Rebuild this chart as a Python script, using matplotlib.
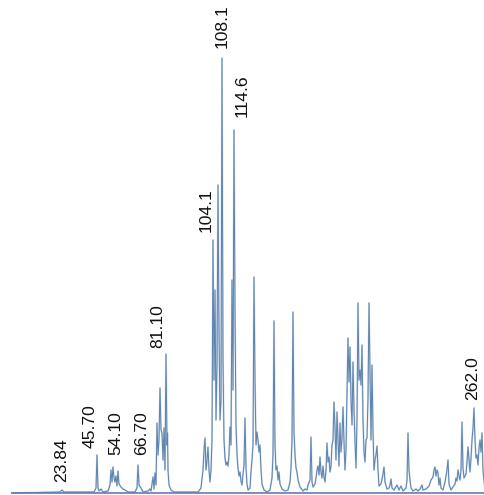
import matplotlib
matplotlib.use("Agg")
import matplotlib.pyplot as plt

# Detector trace: scan position and signal (counts above baseline)
trace_x = [12, 60, 62, 64, 94, 96, 97, 98, 99, 101, 103, 108, 110, 111, 112, 113, 114, 115, 116, 117,
           118, 119, 121, 123, 125, 128, 135, 137, 138, 139, 141, 143, 148, 150, 151, 153, 154, 155, 156, 157,
           158, 159, 160, 161, 162, 163, 164, 165, 166, 167, 167.5, 168, 169, 171, 174, 198, 201, 203, 204, 205,
           206, 207, 208, 209, 210, 211, 212, 213, 214, 215, 216, 217, 218, 219, 220, 221, 222, 223, 224, 225,
           226, 227, 228, 229, 230, 231, 232, 233, 234, 235, 236, 237, 238, 239, 240, 241, 242, 243, 244, 245,
           246, 247, 248, 250, 251, 252, 253, 254, 255, 256, 257, 258, 259, 260, 261, 262, 264, 267, 270, 272,
           273, 274, 275, 276, 277, 278, 279, 280, 282, 285, 288, 290, 291, 292, 293, 294, 295, 296, 297, 298,
           300, 303, 305, 307, 308, 310, 311, 312, 313, 315, 316, 317, 318, 319, 320, 321, 322, 323, 324, 325,
           326, 327, 328, 329, 330, 331, 332, 333, 334, 335, 336, 337, 338, 339, 340, 341, 342, 343, 344, 345,
           346, 347, 348, 349, 350, 351, 352, 353, 354, 355, 356, 357, 358, 359, 360, 361, 362, 363, 364, 365,
           366, 367, 368, 369, 370, 371, 372, 373, 374, 375, 376, 377, 378, 379, 381, 383, 384, 385, 387, 389,
           390, 391, 392, 394, 397, 399, 401, 403, 406, 407, 408, 409, 410, 411, 413, 416, 418, 420, 422, 423,
           426, 429, 431, 433, 434, 435, 436, 437, 438, 439, 440, 441, 443, 445, 447, 448, 449, 451, 453, 455,
           456, 457, 458, 459, 460, 461, 462, 463, 464, 466, 467, 468, 469, 470, 471, 472, 473, 474, 475, 476,
           477, 478, 479, 480, 481, 482, 483, 484, 485]
trace_h = [0, 1, 3, 1, 1, 5, 38, 5, 2, 4, 1, 2, 8, 23, 11, 26, 15, 11, 17, 7,
           22, 9, 6, 4, 3, 1, 1, 5, 28, 8, 5, 1, 2, 4, 2, 16, 4, 20, 8, 70,
           38, 53, 105, 63, 60, 33, 65, 23, 139, 48, 60, 23, 8, 3, 1, 1, 5, 23, 43, 55,
           23, 33, 46, 23, 11, 23, 53, 253, 113, 203, 73, 128, 308, 163, 73, 93, 435, 133, 53, 35,
           28, 31, 27, 38, 66, 48, 213, 103, 363, 183, 68, 38, 25, 17, 21, 12, 8, 19, 28, 75,
           25, 9, 3, 5, 21, 33, 48, 216, 113, 48, 61, 53, 41, 48, 23, 9, 3, 1, 3, 15,
           38, 172, 48, 23, 27, 13, 21, 9, 4, 2, 3, 11, 25, 53, 181, 61, 38, 25, 21, 13,
           6, 2, 4, 3, 8, 13, 56, 11, 6, 9, 15, 23, 27, 18, 36, 21, 15, 27, 16, 11,
           23, 50, 31, 36, 21, 27, 48, 53, 91, 65, 33, 81, 53, 27, 70, 41, 55, 86, 51, 23,
           43, 101, 155, 111, 146, 93, 68, 131, 83, 51, 25, 73, 190, 113, 123, 108, 148, 73, 41, 31,
           53, 55, 95, 190, 121, 53, 128, 63, 23, 33, 38, 47, 23, 7, 9, 19, 26, 11, 4, 5,
           8, 14, 5, 3, 8, 3, 7, 2, 5, 13, 60, 23, 13, 5, 2, 4, 2, 4, 8, 3,
           4, 7, 13, 16, 23, 26, 17, 23, 20, 8, 15, 5, 3, 11, 23, 33, 9, 3, 6, 9,
           15, 12, 23, 17, 13, 23, 71, 25, 15, 19, 31, 46, 33, 21, 35, 53, 65, 85, 53, 35,
           38, 28, 45, 53, 41, 60, 23, 13, 3]

# Annotated peaks: label text and the scan position of the peak it marks
peak_labels = ["23.84", "45.70", "54.10", "66.70", "81.10", "104.1", "108.1", "114.6", "262.0"]
peak_x = [62, 97, 113, 138, 166, 213, 222, 234, 474]

# label placement relative to each peak apex (x shift, gap above apex)
label_dx = [0, -7, 3, 4, -8, -7, 0, 8, -1]
label_gap = [8, 7, 12, 10, 6, 8, 10, 13, 8]

fig = plt.figure(figsize=(4.85, 4.95), dpi=100)
ax = fig.add_axes([0, 0, 1, 1])
ax.set_xlim(0, 485)
ax.set_ylim(-2, 493)
ax.axis("off")

ax.plot(trace_x, trace_h, color="#c9d8e8", lw=1.3, zorder=1)
ax.plot(trace_x, trace_h, color="#5d82ad", lw=0.7, zorder=2)
ax.plot([trace_x[0], trace_x[-1]], [0, 0], color="#5a80ad", lw=1.2, zorder=3)

apex = dict(zip(trace_x, trace_h))
for text, px, dx, gap in zip(peak_labels, peak_x, label_dx, label_gap):
    ax.text(px + dx, apex[px] + gap, text, rotation=90, ha="center", va="bottom",
            fontsize=12.6, family=["Liberation Sans", "DejaVu Sans"], color="#111111")

fig.savefig("out.png", dpi=100)
